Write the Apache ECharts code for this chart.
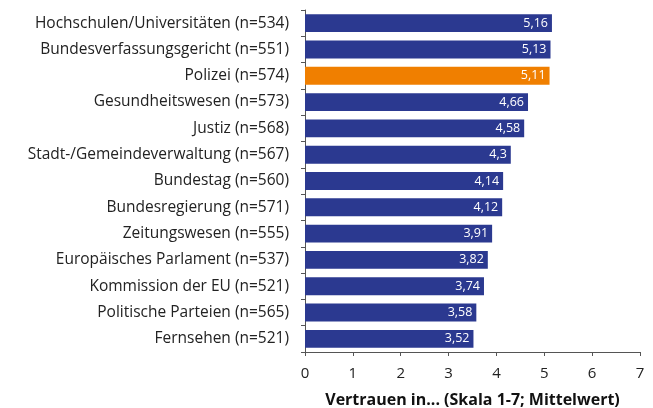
<!DOCTYPE html>
<html>
<head>
<meta charset="utf-8">
<script src="https://cdn.jsdelivr.net/npm/echarts@6/dist/echarts.min.js"></script>
<style>
  html, body { margin: 0; padding: 0; background: #fff; }
  #chart { width: 653px; height: 408px; }
</style>
</head>
<body>
<div id="chart"></div>
<script>
  const categories = [
    'Hochschulen/Universitäten (n=534)',
    'Bundesverfassungsgericht (n=551)',
    'Polizei (n=574)',
    'Gesundheitswesen (n=573)',
    'Justiz (n=568)',
    'Stadt-/Gemeindeverwaltung (n=567)',
    'Bundestag (n=560)',
    'Bundesregierung (n=571)',
    'Zeitungswesen (n=555)',
    'Europäisches Parlament (n=537)',
    'Kommission der EU (n=521)',
    'Politische Parteien (n=565)',
    'Fernsehen (n=521)'
  ]
  const values = [5.16, 5.13, 5.11, 4.66, 4.58, 4.3, 4.14, 4.12, 3.91, 3.82, 3.74, 3.58, 3.52]
  const highlight = 'Polizei (n=574)'
  const axisTitle = 'Vertrauen in... (Skala 1-7; Mittelwert)'

  const font = 'Open Sans'
  let myChart = echarts.init(document.getElementById('chart'))
  let option = {
    animation: false,
    grid: { left: 305, right: 13, top: 10, bottom: 56, outerBoundsMode: 'none', containLabel: false },
    xAxis: {
      type: 'value',
      min: 0,
      max: 7,
      interval: 1,
      splitLine: { show: false },
      axisLine: { show: true, lineStyle: { color: '#555', width: 1 } },
      axisTick: { show: true, length: 4, lineStyle: { color: '#555' } },
      axisLabel: { color: '#222', fontSize: 15, fontFamily: font, margin: 14 },
      name: axisTitle,
      nameLocation: 'middle',
      nameGap: 40,
      nameTextStyle: { color: '#111', fontSize: 16, fontWeight: 'bold', fontFamily: font }
    },
    yAxis: {
      type: 'category',
      data: categories,
      inverse: true,
      axisLine: { show: true, lineStyle: { color: '#555', width: 1 } },
      axisTick: { show: true, length: 4, lineStyle: { color: '#555' } },
      axisLabel: { color: '#222', fontSize: 15.5, fontFamily: font, margin: 16 }
    },
    series: [{
      type: 'bar',
      barCategoryGap: '32%',
      data: values.map((v, i) => ({
        value: v,
        itemStyle: { color: categories[i] === highlight ? '#f07f00' : '#2b3990' }
      })),
      label: {
        show: true,
        position: 'insideRight',
        color: '#fff',
        fontSize: 12.5,
        fontFamily: font,
        distance: 4,
        formatter: p => String(p.value).replace('.', ',')
      }
    }]
  }
  myChart.setOption(option)
</script>
</body>
</html>
